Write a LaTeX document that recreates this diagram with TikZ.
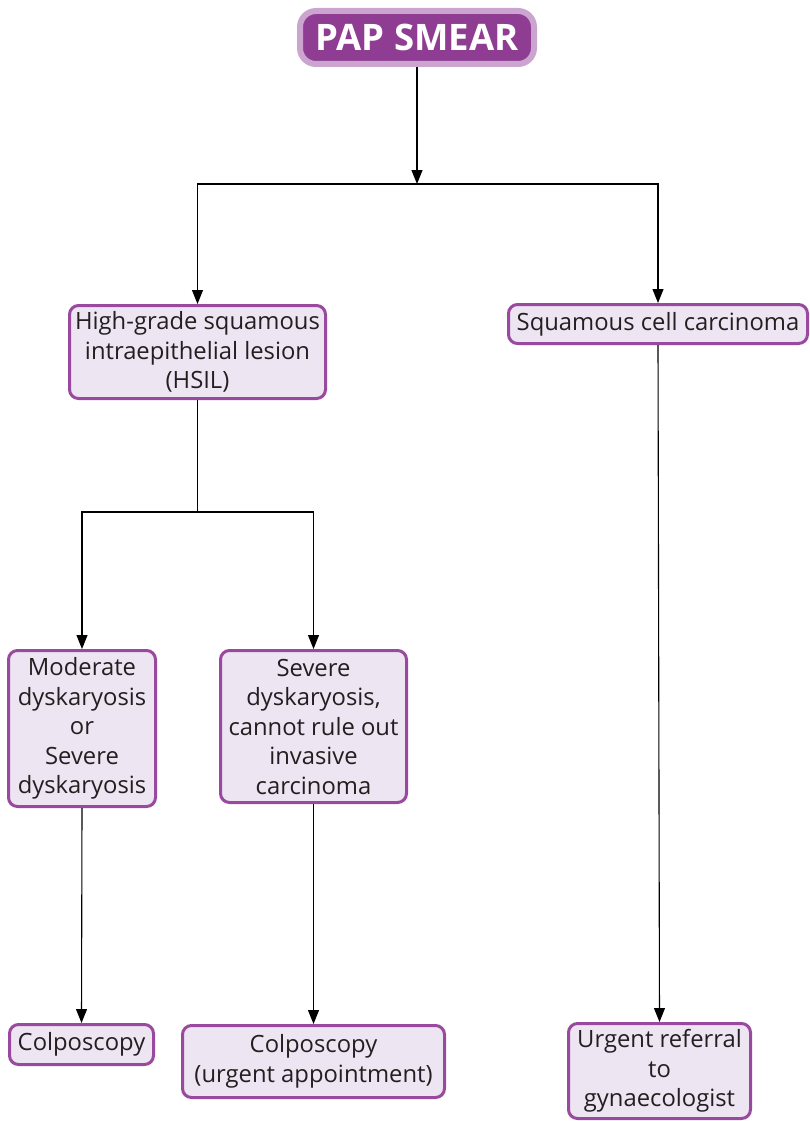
\documentclass[tikz,border=0pt]{standalone}
\usepackage{fontspec}
\setmainfont{Open Sans}
\usetikzlibrary{arrows.meta}
\definecolor{boxline}{HTML}{9A4A9E}
\definecolor{boxfill}{HTML}{EDE5F2}
\definecolor{titlefill}{HTML}{8E3D93}
\definecolor{titlehalo}{HTML}{CBA4CF}
\definecolor{inktext}{HTML}{231F20}
\tikzset{
  x=1pt, y=-1pt,
  stepbox/.style={draw=boxline, fill=boxfill, line width=3pt, rounded corners=9pt,
    align=center, inner sep=0pt, text=inktext,
    font=\fontsize{23.8}{29.5}\selectfont},
  titlebox/.style={draw=titlehalo, fill=titlefill, line width=6pt, rounded corners=16pt,
    inner sep=0pt, text=white, font=\fontsize{36.5}{40}\selectfont\bfseries},
  link/.style={line width=1.1pt, draw=black},
  arrowlink/.style={link, -{Triangle[length=14pt,width=11pt]}},
}
\begin{document}
\begin{tikzpicture}
\useasboundingbox (0,0) rectangle (810,1121);

\node[titlebox, minimum width=234pt, minimum height=53pt] (title) at (417,37.5) {PAP SMEAR};

\node[stepbox, minimum width=256pt, minimum height=93pt] (hsil) at (197.5,352)
  {High-grade squamous\\intraepithelial lesion\\(HSIL)};
\node[stepbox, minimum width=299pt, minimum height=39pt] (scc) at (658,324)
  {Squamous cell carcinoma};

\node[stepbox, minimum width=147pt, minimum height=156pt] (mod) at (82,728.5)
  {Moderate\\dyskaryosis\\or\\Severe\\dyskaryosis};
\node[stepbox, minimum width=186pt, minimum height=152pt] (sev) at (313.5,726.5)
  {Severe\\dyskaryosis,\\cannot rule out\\invasive\\carcinoma};

\node[stepbox, minimum width=144pt, minimum height=40pt] (colp) at (81.5,1044.5)
  {Colposcopy};
\node[stepbox, minimum width=262pt, minimum height=72pt] (urg) at (313.5,1061.5)
  {Colposcopy\\(urgent appointment)};
\node[stepbox, minimum width=182pt, minimum height=95pt] (ref) at (659.5,1071)
  {Urgent referral\\to\\gynaecologist};

\coordinate (split) at (417,184);
\coordinate (hsilsplit) at (197.5,512);

\draw[arrowlink] (title.south) -- (split);
\draw[arrowlink] (split) -| (hsil.north);
\draw[arrowlink] (split) -| (scc.north);
\draw[link] (hsil.south) -- (hsilsplit);
\draw[arrowlink] (hsilsplit) -| (mod.north);
\draw[arrowlink] (hsilsplit) -| (sev.north);
\draw[arrowlink] (mod.south) -- (colp.north);
\draw[arrowlink] (sev.south) -- (urg.north);
\draw[arrowlink] (scc.south) -- (ref.north);
\end{tikzpicture}
\end{document}
